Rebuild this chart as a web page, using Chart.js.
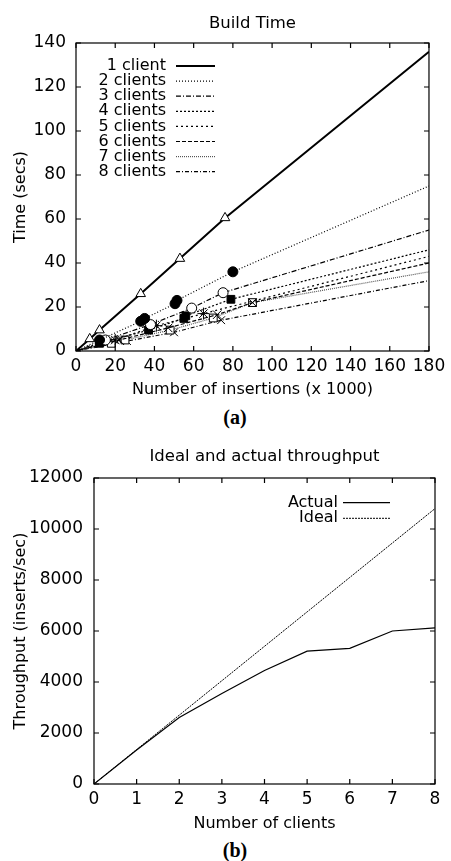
<!DOCTYPE html>
<html>
<head>
<meta charset="utf-8">
<script src="https://cdn.jsdelivr.net/npm/chart.js@4.4.1/dist/chart.umd.min.js"></script>
<style>
  body { margin: 0; background: #fff; width: 451px; height: 861px; position: relative; overflow: hidden; }
  .caja { position: absolute; left: 0; width: 451px; }
  .etiqueta { position: absolute; left: 0; width: 470px; text-align: center;
              font: bold 20px "Liberation Serif", serif; color: #000; }
</style>
</head>
<body>
<div class="caja" style="top:0;height:400px"><canvas id="buildTime"></canvas></div>
<div class="etiqueta" style="top:406px">(a)</div>
<div class="caja" style="top:430px;height:405px"><canvas id="throughput"></canvas></div>
<div class="etiqueta" style="top:839px">(b)</div>
<script>
// Build Time: insertions (x 1000) vs seconds, one pair of arrays per client count
const clients1X = [0, 7, 12, 33, 53, 76, 180];
const clients1Y = [0, 5.5, 9.5, 26, 42, 60.5, 136];
const clients2X = [0, 12, 33, 35, 50.5, 51.5, 80, 180];
const clients2Y = [0, 5, 13.5, 14.8, 21.5, 23, 36, 75];
const clients3X = [0, 15, 38, 59, 75, 180];
const clients3Y = [0, 5, 12, 19.5, 26.5, 55];
const clients4X = [0, 12, 37, 55, 56, 79, 180];
const clients4Y = [0, 3.5, 9.5, 14.8, 16, 23.5, 46];
const clients5X = [0, 20, 41, 65, 180];
const clients5Y = [0, 5, 11.5, 17, 43];
const clients6X = [0, 22, 47, 72, 90, 180];
const clients6Y = [0, 5, 10.5, 16.5, 22, 40];
const clients7X = [0, 18, 25, 48, 70, 90, 180];
const clients7Y = [0, 3.5, 5, 9.5, 15, 22, 36];
const clients8X = [0, 26, 50, 74, 180];
const clients8Y = [0, 4.5, 8.5, 14, 32];
const buildLabels = ["1 client", "2 clients", "3 clients", "4 clients",
                     "5 clients", "6 clients", "7 clients", "8 clients"];

// Throughput vs number of clients
const numClients = [0, 1, 2, 3, 4, 5, 6, 7, 8];
const actualThroughput = [0, 1330, 2610, 3550, 4450, 5210, 5320, 6000, 6120];
const idealThroughput = [0, 1350, 2700, 4050, 5400, 6750, 8100, 9450, 10800];

Chart.defaults.font.family = '"DejaVu Sans", sans-serif';
Chart.defaults.font.size = 16;
Chart.defaults.color = '#000';

const toPoints = (xs, ys) => xs.map((x, i) => ({ x, y: ys[i] }));

// marco con marcas hacia adentro en los cuatro lados
const marco = {
  id: 'marco',
  afterDatasetsDraw(chart) {
    const { ctx, chartArea: a, scales: { x, y } } = chart;
    const len = 5;
    ctx.save();
    ctx.strokeStyle = '#000';
    ctx.lineWidth = 1.2;
    ctx.setLineDash([]);
    ctx.strokeRect(a.left, a.top, a.width, a.height);
    ctx.beginPath();
    x.ticks.forEach(t => {
      const px = x.getPixelForValue(t.value);
      ctx.moveTo(px, a.bottom); ctx.lineTo(px, a.bottom - len);
      ctx.moveTo(px, a.top); ctx.lineTo(px, a.top + len);
    });
    y.ticks.forEach(t => {
      const py = y.getPixelForValue(t.value);
      ctx.moveTo(a.left, py); ctx.lineTo(a.left + len, py);
      ctx.moveTo(a.right, py); ctx.lineTo(a.right - len, py);
    });
    ctx.stroke();
    ctx.restore();
  }
};

// leyenda estilo gnuplot: texto a la derecha, muestra de linea despues
const leyendaCaja = {
  id: 'leyendaCaja',
  afterDatasetsDraw(chart, args, opts) {
    const { ctx, chartArea: a } = chart;
    ctx.save();
    ctx.font = '16px "DejaVu Sans"';
    ctx.fillStyle = '#000';
    ctx.textAlign = 'right';
    ctx.textBaseline = 'middle';
    chart.data.datasets.forEach((ds, i) => {
      const y = a.top + opts.top + i * opts.step;
      ctx.fillText(ds.label, a.left + opts.textRight, y);
      ctx.beginPath();
      ctx.setLineDash(ds.borderDash || []);
      ctx.lineWidth = ds.borderWidth;
      ctx.strokeStyle = ds.borderColor;
      ctx.moveTo(a.left + opts.lineFrom, y);
      ctx.lineTo(a.left + opts.lineTo, y);
      ctx.stroke();
    });
    ctx.restore();
  }
};

function ejes(xMax, xStep, yMax, yStep, xTitle, yTitle, left, bottomH, xTitlePad, yLabelPad) {
  return {
    x: {
      type: 'linear', min: 0, max: xMax,
      grid: { display: false, drawTicks: false },
      border: { display: false },
      ticks: { stepSize: xStep, padding: 5.8, autoSkip: false, maxRotation: 0,
               font: { size: 17 }, callback: v => String(v) },
      title: { display: true, text: xTitle, padding: { top: 0, bottom: xTitlePad } },
      afterFit: s => { s.height = bottomH; }
    },
    y: {
      min: 0, max: yMax,
      grid: { display: false, drawTicks: false },
      border: { display: false },
      ticks: { stepSize: yStep, padding: yLabelPad, font: { size: 17 }, callback: v => String(v) },
      title: { display: true, text: yTitle, padding: { top: 11, bottom: 0 } },
      afterFit: s => { s.width = left; }
    }
  };
}

function serie(label, xs, ys, estilo) {
  const r = estilo.radius || 5;
  return Object.assign({
    label,
    data: toPoints(xs, ys),
    borderColor: '#000',
    borderWidth: 1.2,
    backgroundColor: '#fff',
    pointBorderColor: '#000',
    pointBorderWidth: 1,
    tension: 0,
    fill: false,
    pointRadius: c => (c.dataIndex === 0 || c.dataIndex === c.dataset.data.length - 1) ? 0 : r
  }, estilo);
}

new Chart(document.getElementById('buildTime'), {
  type: 'line',
  data: {
    datasets: [
      serie(buildLabels[0], clients1X, clients1Y, { borderWidth: 2, pointStyle: 'triangle', radius: 5.5 }),
      serie(buildLabels[1], clients2X, clients2Y, { borderDash: [1, 2], pointStyle: 'circle', backgroundColor: '#000' }),
      serie(buildLabels[2], clients3X, clients3Y, { borderDash: [5, 2, 1, 2], pointStyle: 'circle' }),
      serie(buildLabels[3], clients4X, clients4Y, { borderDash: [2, 2], pointStyle: 'rect', backgroundColor: '#000', radius: 5.5 }),
      serie(buildLabels[4], clients5X, clients5Y, { borderDash: [2, 3], pointStyle: 'star', radius: 6 }),
      serie(buildLabels[5], clients6X, clients6Y, { borderDash: [4, 2], pointStyle: 'crossRot', radius: 6 }),
      serie(buildLabels[6], clients7X, clients7Y, { borderDash: [1, 1], borderColor: '#555', pointStyle: 'rect', radius: 5.5 }),
      serie(buildLabels[7], clients8X, clients8Y, { borderDash: [4, 2, 1, 2], pointStyle: 'crossRot', radius: 5.5 })
    ]
  },
  options: {
    responsive: true,
    maintainAspectRatio: false,
    animation: false,
    layout: { padding: { left: 0, right: 16, top: 0, bottom: 0 } },
    scales: ejes(180, 20, 140, 20, 'Number of insertions (x 1000)', 'Time (secs)', 76, 49, 0.4, 10),
    plugins: {
      legend: { display: false },
      tooltip: { enabled: false },
      title: { display: true, text: 'Build Time', fullSize: false, font: { weight: 'normal', size: 16.5 },
               padding: { top: 14.1, bottom: 9.1 } },
      leyendaCaja: { textRight: 90, lineFrom: 100, lineTo: 139, top: 23, step: 15.1 }
    }
  },
  plugins: [marco, leyendaCaja]
});

new Chart(document.getElementById('throughput'), {
  type: 'line',
  data: {
    datasets: [
      { label: 'Actual', data: toPoints(numClients, actualThroughput), borderColor: '#000',
        borderWidth: 1.2, pointRadius: 0, tension: 0, fill: false },
      { label: 'Ideal', data: toPoints(numClients, idealThroughput), borderColor: '#000',
        borderWidth: 1, borderDash: [2, 1], pointRadius: 0, tension: 0, fill: false }
    ]
  },
  options: {
    responsive: true,
    maintainAspectRatio: false,
    animation: false,
    layout: { padding: { left: 0, right: 16, top: 0, bottom: 0 } },
    scales: ejes(8, 1, 12000, 2000, 'Number of clients', 'Throughput (inserts/sec)', 94, 51, 1.9, 11),
    plugins: {
      legend: { display: false },
      tooltip: { enabled: false },
      title: { display: true, text: 'Ideal and actual throughput', fullSize: false, font: { weight: 'normal', size: 16.5 },
               padding: { top: 17.1, bottom: 11.1 } },
      leyendaCaja: { textRight: 244, lineFrom: 249, lineTo: 296, top: 24.7, step: 15.6 }
    }
  },
  plugins: [marco, leyendaCaja]
});
</script>
</body>
</html>
